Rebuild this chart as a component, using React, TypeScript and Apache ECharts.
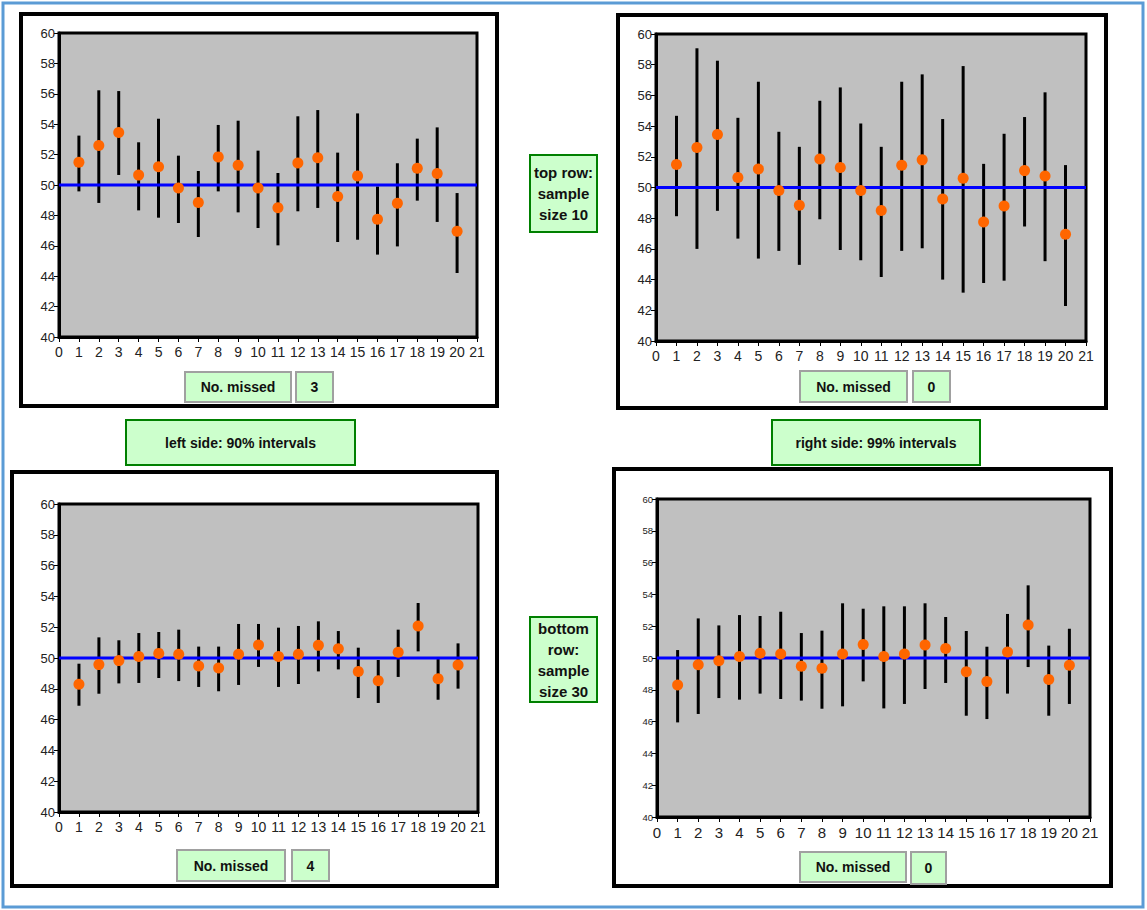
import React, { useEffect, useRef } from "react";
import * as echarts from "echarts";

// sample numbers
const samples = [1, 2, 3, 4, 5, 6, 7, 8, 9, 10, 11, 12, 13, 14, 15, 16, 17, 18, 19, 20];

// top row: sample size 10 (same samples, two interval widths)
const topMeans = [51.5, 52.6, 53.45, 50.65, 51.2, 49.8, 48.85, 51.85, 51.3, 49.8, 48.5, 51.45, 51.8, 49.25, 50.6, 47.75, 48.8, 51.1, 50.75, 46.95];
const tl90Low = [49.58, 48.82, 50.66, 48.33, 47.85, 47.5, 46.58, 49.58, 48.2, 47.17, 46.03, 48.27, 48.49, 46.25, 46.4, 45.42, 45.96, 48.97, 47.57, 44.21];
const tl90High = [53.25, 56.23, 56.18, 52.81, 54.36, 51.93, 50.92, 53.95, 54.23, 52.26, 50.79, 54.52, 54.93, 52.13, 54.71, 49.9, 51.43, 53.05, 53.79, 49.47];
const tr99Low = [48.13, 46.0, 48.48, 46.67, 45.37, 45.87, 44.96, 47.93, 45.93, 45.26, 44.17, 45.87, 46.04, 44.0, 43.15, 43.78, 43.93, 47.46, 45.2, 42.28];
const tr99High = [54.67, 59.07, 58.26, 54.54, 56.89, 53.63, 52.65, 55.65, 56.52, 54.17, 52.65, 56.89, 57.37, 54.46, 57.91, 51.54, 53.5, 54.59, 56.2, 51.46];

// bottom row: sample size 30
const bottomMeans = [48.3, 49.57, 49.83, 50.1, 50.3, 50.25, 49.48, 49.35, 50.25, 50.85, 50.1, 50.25, 50.82, 50.6, 49.13, 48.52, 50.38, 52.08, 48.65, 49.55];
const bl90Low = [46.9, 47.68, 48.35, 48.38, 48.7, 48.5, 48.12, 47.84, 48.25, 49.42, 48.12, 48.31, 49.13, 49.26, 47.4, 47.08, 48.77, 50.43, 47.29, 48.01];
const bl90High = [49.63, 51.34, 51.15, 51.62, 51.69, 51.84, 50.74, 50.74, 52.21, 52.21, 51.97, 52.08, 52.38, 51.75, 50.67, 49.87, 51.84, 53.57, 49.93, 50.95];
const br99Low = [45.95, 46.48, 47.48, 47.38, 47.76, 47.42, 47.32, 46.81, 46.96, 48.53, 46.83, 47.11, 48.05, 48.43, 46.37, 46.16, 47.76, 49.43, 46.37, 47.11];
const br99High = [50.5, 52.49, 52.05, 52.7, 52.64, 52.91, 51.57, 51.72, 53.44, 53.1, 53.25, 53.25, 53.44, 52.58, 51.7, 50.71, 52.77, 54.57, 50.78, 51.84];

// true mean reference line
const trueMean = 50;
const xRange = [0, 21];
const yRange = [40, 60];

const missedCounts = ["3", "0", "4", "0"];

const FONT = "'Liberation Sans', Arial, sans-serif";

type PanelCfg = {
  grid: { left: number; top: number; width: number; height: number };
  means: number[];
  lows: number[];
  highs: number[];
  yFont: number;
  xFont: number;
};

const panels: PanelCfg[] = [
  { grid: { left: 59, top: 33, width: 418, height: 304 }, means: topMeans, lows: tl90Low, highs: tl90High, yFont: 13, xFont: 14 },
  { grid: { left: 656, top: 34, width: 430, height: 307 }, means: topMeans, lows: tr99Low, highs: tr99High, yFont: 13, xFont: 14 },
  { grid: { left: 59, top: 504, width: 419, height: 308 }, means: bottomMeans, lows: bl90Low, highs: bl90High, yFont: 13, xFont: 14 },
  { grid: { left: 657, top: 499, width: 433, height: 318 }, means: bottomMeans, lows: br99Low, highs: br99High, yFont: 9.5, xFont: 15 },
];

function buildOption() {
  const grids: any[] = [];
  const xAxes: any[] = [];
  const yAxes: any[] = [];
  const series: any[] = [];

  panels.forEach((p, i) => {
    grids.push({
      ...p.grid,
      show: true,
      backgroundColor: "#C0C0C0",
      borderColor: "#000",
      borderWidth: 3,
      containLabel: false,
    });
    xAxes.push({
      gridIndex: i,
      type: "value",
      min: xRange[0],
      max: xRange[1],
      interval: 1,
      splitLine: { show: false },
      axisLine: { show: true, lineStyle: { color: "#000", width: 3 } },
      axisTick: { show: true, length: 5, lineStyle: { color: "#000", width: 1 } },
      axisLabel: { fontSize: p.xFont, color: "#222", fontFamily: FONT, margin: 8 },
    });
    yAxes.push({
      gridIndex: i,
      type: "value",
      min: yRange[0],
      max: yRange[1],
      interval: 2,
      splitLine: { show: false },
      axisLine: { show: true, lineStyle: { color: "#000", width: 3 } },
      axisTick: { show: true, length: 5, lineStyle: { color: "#000", width: 1 } },
      axisLabel: { fontSize: p.yFont, color: "#222", fontFamily: FONT, margin: 4 },
    });
    series.push({
      type: "custom",
      xAxisIndex: i,
      yAxisIndex: i,
      z: 2,
      data: samples.map((s, k) => [s, p.lows[k], p.highs[k]]),
      encode: { x: 0, y: [1, 2] },
      renderItem: (params: any, api: any) => {
        const x = api.value(0);
        const a = api.coord([x, api.value(1)]);
        const b = api.coord([x, api.value(2)]);
        return {
          type: "line",
          shape: { x1: a[0], y1: a[1], x2: b[0], y2: b[1] },
          style: { stroke: "#000", lineWidth: 3 },
        };
      },
    });
    series.push({
      type: "line",
      xAxisIndex: i,
      yAxisIndex: i,
      z: 3,
      symbol: "none",
      data: [
        [xRange[0], trueMean],
        [xRange[1], trueMean],
      ],
      lineStyle: { color: "#0000FF", width: 3 },
    });
    series.push({
      type: "scatter",
      xAxisIndex: i,
      yAxisIndex: i,
      z: 4,
      symbolSize: 11,
      itemStyle: { color: "#FF6600", opacity: 1 },
      data: samples.map((s, k) => [s, p.means[k]]),
    });
  });

  const boxText = (x: number, y: number, w: number, h: number, text: string, stroke: string, sw: number, lineHeight = 20, fontSize = 14) => [
    {
      type: "rect",
      shape: { x, y, width: w, height: h },
      style: { fill: "#CCFFCC", stroke, lineWidth: sw },
      z: 10,
    },
    {
      type: "text",
      z: 11,
      style: {
        text,
        x: x + w / 2,
        y: y + h / 2,
        align: "center",
        verticalAlign: "middle",
        fontSize,
        fontWeight: "bold",
        fontFamily: FONT,
        fill: "#111",
        lineHeight,
      },
    },
  ];

  const panelRect = (x: number, y: number, w: number, h: number) => ({
    type: "rect",
    shape: { x, y, width: w, height: h },
    style: { fill: "none", stroke: "#000", lineWidth: 4 },
    z: 5,
  });

  const graphic: any[] = [
    {
      type: "rect",
      shape: { x: 3, y: 3, width: 1140, height: 904 },
      style: { fill: "none", stroke: "#5B9BD5", lineWidth: 3 },
      z: 1,
    },
    panelRect(21, 14, 476, 392),
    panelRect(618, 15, 488, 393),
    panelRect(12, 472, 485, 414),
    panelRect(614, 469, 497, 417),
    ...boxText(185, 372, 106, 30, "No. missed", "#A0A0A0", 2),
    ...boxText(296, 372, 37, 30, missedCounts[0], "#A0A0A0", 2),
    ...boxText(800, 371, 107, 31, "No. missed", "#A0A0A0", 2),
    ...boxText(913, 371, 37, 31, missedCounts[1], "#A0A0A0", 2),
    ...boxText(177, 850, 108, 31, "No. missed", "#A0A0A0", 2),
    ...boxText(292, 850, 37, 31, missedCounts[2], "#A0A0A0", 2),
    ...boxText(800, 852, 106, 30, "No. missed", "#A0A0A0", 2),
    ...boxText(911, 852, 35, 32, missedCounts[3], "#A0A0A0", 2),
    ...boxText(126, 420, 229, 45, "left side: 90% intervals", "#008000", 2),
    ...boxText(772, 420, 208, 45, "right side: 99% intervals", "#008000", 2),
    ...boxText(530, 155, 67, 77, "top row:\nsample\nsize 10", "#008000", 2, 21, 15),
    ...boxText(530, 617, 67, 85, "bottom\nrow:\nsample\nsize 30", "#008000", 2, 21, 15),
  ];

  return {
    animation: false,
    backgroundColor: "#FFFFFF",
    grid: grids,
    xAxis: xAxes,
    yAxis: yAxes,
    series,
    graphic,
  };
}

export default function App() {
  const ref = useRef<HTMLDivElement>(null);
  useEffect(() => {
    if (!ref.current) return;
    const chart = echarts.init(ref.current, undefined, { renderer: "svg" });
    chart.setOption(buildOption() as any);
    return () => chart.dispose();
  }, []);
  return (
    <div
      ref={ref}
      style={{ position: "fixed", left: 0, top: 0, width: 1147, height: 910, background: "#fff" }}
    />
  );
}
